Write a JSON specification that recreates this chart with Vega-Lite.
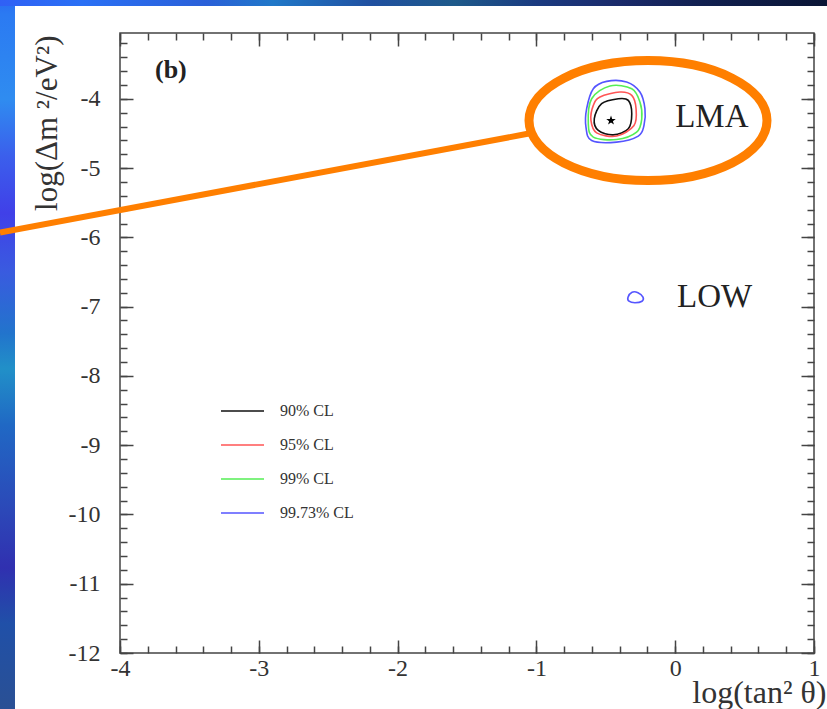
{
  "$schema": "https://vega.github.io/schema/vega-lite/v6.json",
  "width": 694,
  "height": 620,
  "autosize": "none",
  "padding": {"left": 120, "top": 33, "right": 13, "bottom": 56},
  "background": "white",
  "config": {"view": {"stroke": "#444", "strokeWidth": 1.5}},
  "datasets": {
    "contours": [
      {"g": "c90", "cl": "90% CL", "i": 0, "x": -0.530, "y": -4.071},
      {"g": "c90", "cl": "90% CL", "i": 1, "x": -0.410, "y": -3.999},
      {"g": "c90", "cl": "90% CL", "i": 2, "x": -0.338, "y": -4.023},
      {"g": "c90", "cl": "90% CL", "i": 3, "x": -0.313, "y": -4.216},
      {"g": "c90", "cl": "90% CL", "i": 4, "x": -0.338, "y": -4.433},
      {"g": "c90", "cl": "90% CL", "i": 5, "x": -0.446, "y": -4.520},
      {"g": "c90", "cl": "90% CL", "i": 6, "x": -0.554, "y": -4.457},
      {"g": "c90", "cl": "90% CL", "i": 7, "x": -0.583, "y": -4.288},
      {"g": "c95", "cl": "95% CL", "i": 0, "x": -0.542, "y": -3.974},
      {"g": "c95", "cl": "95% CL", "i": 1, "x": -0.398, "y": -3.902},
      {"g": "c95", "cl": "95% CL", "i": 2, "x": -0.313, "y": -3.951},
      {"g": "c95", "cl": "95% CL", "i": 3, "x": -0.282, "y": -4.143},
      {"g": "c95", "cl": "95% CL", "i": 4, "x": -0.297, "y": -4.385},
      {"g": "c95", "cl": "95% CL", "i": 5, "x": -0.422, "y": -4.538},
      {"g": "c95", "cl": "95% CL", "i": 6, "x": -0.566, "y": -4.491},
      {"g": "c95", "cl": "95% CL", "i": 7, "x": -0.607, "y": -4.312},
      {"g": "c95", "cl": "95% CL", "i": 8, "x": -0.590, "y": -4.095},
      {"g": "c99", "cl": "99% CL", "i": 0, "x": -0.470, "y": -3.815},
      {"g": "c99", "cl": "99% CL", "i": 1, "x": -0.313, "y": -3.854},
      {"g": "c99", "cl": "99% CL", "i": 2, "x": -0.254, "y": -4.047},
      {"g": "c99", "cl": "99% CL", "i": 3, "x": -0.241, "y": -4.288},
      {"g": "c99", "cl": "99% CL", "i": 4, "x": -0.278, "y": -4.481},
      {"g": "c99", "cl": "99% CL", "i": 5, "x": -0.422, "y": -4.587},
      {"g": "c99", "cl": "99% CL", "i": 6, "x": -0.590, "y": -4.553},
      {"g": "c99", "cl": "99% CL", "i": 7, "x": -0.626, "y": -4.360},
      {"g": "c99", "cl": "99% CL", "i": 8, "x": -0.602, "y": -3.999},
      {"g": "c9973", "cl": "99.73% CL", "i": 0, "x": -0.494, "y": -3.748},
      {"g": "c9973", "cl": "99.73% CL", "i": 1, "x": -0.350, "y": -3.757},
      {"g": "c9973", "cl": "99.73% CL", "i": 2, "x": -0.254, "y": -3.902},
      {"g": "c9973", "cl": "99.73% CL", "i": 3, "x": -0.218, "y": -4.143},
      {"g": "c9973", "cl": "99.73% CL", "i": 4, "x": -0.225, "y": -4.385},
      {"g": "c9973", "cl": "99.73% CL", "i": 5, "x": -0.266, "y": -4.538},
      {"g": "c9973", "cl": "99.73% CL", "i": 6, "x": -0.422, "y": -4.625},
      {"g": "c9973", "cl": "99.73% CL", "i": 7, "x": -0.602, "y": -4.602},
      {"g": "c9973", "cl": "99.73% CL", "i": 8, "x": -0.643, "y": -4.408},
      {"g": "c9973", "cl": "99.73% CL", "i": 9, "x": -0.638, "y": -4.143},
      {"g": "c9973", "cl": "99.73% CL", "i": 10, "x": -0.590, "y": -3.854},
      {"g": "low", "cl": "99.73% CL", "i": 0, "x": -0.340, "y": -6.864},
      {"g": "low", "cl": "99.73% CL", "i": 1, "x": -0.311, "y": -6.792},
      {"g": "low", "cl": "99.73% CL", "i": 2, "x": -0.268, "y": -6.799},
      {"g": "low", "cl": "99.73% CL", "i": 3, "x": -0.232, "y": -6.864},
      {"g": "low", "cl": "99.73% CL", "i": 4, "x": -0.239, "y": -6.922},
      {"g": "low", "cl": "99.73% CL", "i": 5, "x": -0.290, "y": -6.944},
      {"g": "low", "cl": "99.73% CL", "i": 6, "x": -0.333, "y": -6.922}
    ],
    "bestfit": [{"x": -0.4625, "y": -4.314}],
    "callout": [{"x": -0.196, "y": -4.314}],
    "pointer": [{"i": 0, "x": -4.8646, "y": -5.932}, {"i": 1, "x": -1.0533, "y": -4.501}],
    "regions": [{"label": "LMA", "x": 0.0, "y": -4.256}, {"label": "LOW", "x": 0.013, "y": -6.857}],
    "panel": [{"label": "(b)", "x": -3.748, "y": -3.577}]
  },
  "resolve": {"axis": {"x": "independent", "y": "independent"}},
  "layer": [
    {
      "data": {"values": [{}]},
      "mark": {"type": "rect", "fill": {"gradient": "linear", "x1": 0, "y1": 0, "x2": 0, "y2": 1, "stops": [
        {"offset": 0, "color": "#2a6cf2"},
        {"offset": 0.02, "color": "#2b7af2"},
        {"offset": 0.14, "color": "#2f8cf0"},
        {"offset": 0.22, "color": "#3b5fec"},
        {"offset": 0.30, "color": "#4040e8"},
        {"offset": 0.38, "color": "#3a5ae0"},
        {"offset": 0.47, "color": "#2274cc"},
        {"offset": 0.52, "color": "#2190c8"},
        {"offset": 0.60, "color": "#2068c4"},
        {"offset": 0.72, "color": "#2c48b8"},
        {"offset": 0.80, "color": "#3030b0"},
        {"offset": 0.88, "color": "#2050a8"},
        {"offset": 1, "color": "#2a5094"}]}},
      "encoding": {
        "x": {"datum": -4.8646, "type": "quantitative", "scale": {"domain": [-4, 1], "nice": false, "zero": false}, "axis": null},
        "x2": {"datum": -4.7565},
        "y": {"datum": -2.573, "type": "quantitative", "scale": {"domain": [-12, -3.05], "nice": false, "zero": false}, "axis": null},
        "y2": {"datum": -12.81}
      }
    },
    {
      "data": {"values": [{}]},
      "mark": {"type": "rect", "fill": {"gradient": "linear", "x1": 0, "y1": 0, "x2": 1, "y2": 0, "stops": [
        {"offset": 0, "color": "#3060f5"},
        {"offset": 0.1, "color": "#2a70f5"},
        {"offset": 0.25, "color": "#2a60d8"},
        {"offset": 0.33, "color": "#2078c8"},
        {"offset": 0.45, "color": "#2050a0"},
        {"offset": 0.55, "color": "#1e5a8a"},
        {"offset": 0.65, "color": "#1a3a80"},
        {"offset": 0.75, "color": "#1a2a6a"},
        {"offset": 0.85, "color": "#112050"},
        {"offset": 1, "color": "#0a1535"}]}},
      "encoding": {
        "x": {"datum": -4.8646, "type": "quantitative", "scale": {"domain": [-4, 1], "nice": false, "zero": false}, "axis": null},
        "x2": {"datum": 1.0937},
        "y": {"datum": -2.573, "type": "quantitative", "scale": {"domain": [-12, -3.05], "nice": false, "zero": false}, "axis": null},
        "y2": {"datum": -2.660}
      }
    },
    {
      "data": {"name": "contours"},
      "mark": {"type": "line", "interpolate": "cardinal-closed", "strokeWidth": 1.6},
      "encoding": {
        "x": {"field": "x", "type": "quantitative", "scale": {"domain": [-4, 1], "nice": false, "zero": false},
          "axis": {"orient": "bottom", "values": [-4, -3, -2, -1, 0, 1], "ticks": false, "domain": false, "grid": false,
            "labelFont": "Liberation Serif", "labelFontSize": 24, "labelColor": "#333", "labelPadding": 3, "labelFlush": false, "labelOverlap": false,
            "labelExpr": "'' + datum.value",
            "title": "log(tan² θ)", "titleFont": "Liberation Serif", "titleFontSize": 32, "titleFontWeight": "normal", "titleColor": "#333",
            "titleX": 706, "titleY": 49, "titleAlign": "right", "titleBaseline": "alphabetic"}},
        "y": {"field": "y", "type": "quantitative", "scale": {"domain": [-12, -3.05], "nice": false, "zero": false},
          "axis": {"orient": "left", "values": [-12, -11, -10, -9, -8, -7, -6, -5, -4], "ticks": false, "domain": false, "grid": false,
            "labelFont": "Liberation Serif", "labelFontSize": 24, "labelColor": "#333", "labelPadding": 20, "labelOverlap": false,
            "labelExpr": "'' + datum.value",
            "title": "log(Δm ²/eV²)", "titleFont": "Liberation Serif", "titleFontSize": 31, "titleFontWeight": "normal", "titleColor": "#333",
            "titleAngle": -90, "titleX": -64, "titleY": 2, "titleAlign": "right", "titleBaseline": "alphabetic"}},
        "color": {"field": "cl", "type": "nominal",
          "scale": {"domain": ["90% CL", "95% CL", "99% CL", "99.73% CL"], "range": ["#111111", "#ff5555", "#55ee55", "#5555ff"]},
          "legend": {"orient": "none", "legendX": 100, "legendY": 368, "direction": "vertical", "title": null,
            "symbolType": "stroke", "symbolSize": 1849, "symbolStrokeWidth": 1.6, "clipHeight": 20, "rowPadding": 14,
            "labelFont": "Liberation Serif", "labelFontSize": 16, "labelColor": "#333", "labelOffset": 15, "padding": 0}},
        "detail": {"field": "g"},
        "order": {"field": "i", "type": "quantitative"}
      }
    },
    {
      "data": {"name": "bestfit"},
      "mark": {"type": "point", "shape": "M0,-1L0.235,-0.324L0.951,-0.309L0.38,0.124L0.588,0.809L0,0.4L-0.588,0.809L-0.38,0.124L-0.951,-0.309L-0.235,-0.324Z", "size": 100, "filled": true, "color": "#000", "opacity": 1},
      "encoding": {
        "x": {"field": "x", "type": "quantitative", "scale": {"domain": [-4, 1], "nice": false, "zero": false},
          "axis": {"orient": "bottom", "values": [-4, -3, -2, -1, 0, 1], "labels": false, "domain": false, "grid": false, "tickSize": 13, "offset": -13, "tickColor": "#444", "tickWidth": 1.5, "title": null}},
        "y": {"field": "y", "type": "quantitative", "scale": {"domain": [-12, -3.05], "nice": false, "zero": false},
          "axis": {"orient": "left", "values": [-12, -11, -10, -9, -8, -7, -6, -5, -4], "labels": false, "domain": false, "grid": false, "tickSize": 13, "offset": -13, "tickColor": "#444", "tickWidth": 1.5, "title": null}}
      }
    },
    {
      "data": {"name": "pointer"},
      "mark": {"type": "line", "color": "#ff7f00", "strokeWidth": 6, "strokeCap": "butt"},
      "encoding": {
        "x": {"field": "x", "type": "quantitative", "scale": {"domain": [-4, 1], "nice": false, "zero": false},
          "axis": {"orient": "bottom", "values": [-4, -3.8, -3.6, -3.4, -3.2, -3, -2.8, -2.6, -2.4, -2.2, -2, -1.8, -1.6, -1.4, -1.2, -1, -0.8, -0.6, -0.4, -0.2, 0, 0.2, 0.4, 0.6, 0.8, 1], "labels": false, "domain": false, "grid": false, "tickSize": 7, "offset": -7, "tickColor": "#444", "tickWidth": 1.5, "title": null}},
        "y": {"field": "y", "type": "quantitative", "scale": {"domain": [-12, -3.05], "nice": false, "zero": false},
          "axis": {"orient": "left", "values": [-12, -11.8, -11.6, -11.4, -11.2, -11, -10.8, -10.6, -10.4, -10.2, -10, -9.8, -9.6, -9.4, -9.2, -9, -8.8, -8.6, -8.4, -8.2, -8, -7.8, -7.6, -7.4, -7.2, -7, -6.8, -6.6, -6.4, -6.2, -6, -5.8, -5.6, -5.4, -5.2, -5, -4.8, -4.6, -4.4, -4.2, -4, -3.8, -3.6, -3.4, -3.2], "labels": false, "domain": false, "grid": false, "tickSize": 7, "offset": -7, "tickColor": "#444", "tickWidth": 1.5, "title": null}},
        "order": {"field": "i", "type": "quantitative"}
      }
    },
    {
      "data": {"name": "callout"},
      "mark": {"type": "point", "shape": "M-1,0A1,0.504 0 1,1 1,0A1,0.504 0 1,1 -1,0Z", "size": 56644, "filled": false, "stroke": "#ff7f00", "strokeWidth": 9, "opacity": 1},
      "encoding": {
        "x": {"field": "x", "type": "quantitative", "scale": {"domain": [-4, 1], "nice": false, "zero": false},
          "axis": {"orient": "top", "values": [-4, -3, -2, -1, 0, 1], "labels": false, "domain": false, "grid": false, "tickSize": 13, "offset": -13, "tickColor": "#444", "tickWidth": 1.5, "title": null}},
        "y": {"field": "y", "type": "quantitative", "scale": {"domain": [-12, -3.05], "nice": false, "zero": false},
          "axis": {"orient": "right", "values": [-12, -11, -10, -9, -8, -7, -6, -5, -4], "labels": false, "domain": false, "grid": false, "tickSize": 13, "offset": -13, "tickColor": "#444", "tickWidth": 1.5, "title": null}}
      }
    },
    {
      "data": {"name": "regions"},
      "mark": {"type": "text", "font": "Liberation Serif", "fontSize": 33, "color": "#222", "align": "left", "baseline": "middle"},
      "encoding": {
        "x": {"field": "x", "type": "quantitative", "scale": {"domain": [-4, 1], "nice": false, "zero": false},
          "axis": {"orient": "top", "values": [-4, -3.8, -3.6, -3.4, -3.2, -3, -2.8, -2.6, -2.4, -2.2, -2, -1.8, -1.6, -1.4, -1.2, -1, -0.8, -0.6, -0.4, -0.2, 0, 0.2, 0.4, 0.6, 0.8, 1], "labels": false, "domain": false, "grid": false, "tickSize": 7, "offset": -7, "tickColor": "#444", "tickWidth": 1.5, "title": null}},
        "y": {"field": "y", "type": "quantitative", "scale": {"domain": [-12, -3.05], "nice": false, "zero": false},
          "axis": {"orient": "right", "values": [-12, -11.8, -11.6, -11.4, -11.2, -11, -10.8, -10.6, -10.4, -10.2, -10, -9.8, -9.6, -9.4, -9.2, -9, -8.8, -8.6, -8.4, -8.2, -8, -7.8, -7.6, -7.4, -7.2, -7, -6.8, -6.6, -6.4, -6.2, -6, -5.8, -5.6, -5.4, -5.2, -5, -4.8, -4.6, -4.4, -4.2, -4, -3.8, -3.6, -3.4, -3.2], "labels": false, "domain": false, "grid": false, "tickSize": 7, "offset": -7, "tickColor": "#444", "tickWidth": 1.5, "title": null}},
        "text": {"field": "label"}
      }
    },
    {
      "data": {"name": "panel"},
      "mark": {"type": "text", "font": "Liberation Serif", "fontSize": 26, "fontWeight": "bold", "color": "#222", "align": "left", "baseline": "middle"},
      "encoding": {
        "x": {"field": "x", "type": "quantitative", "scale": {"domain": [-4, 1], "nice": false, "zero": false}, "axis": null},
        "y": {"field": "y", "type": "quantitative", "scale": {"domain": [-12, -3.05], "nice": false, "zero": false}, "axis": null},
        "text": {"field": "label"}
      }
    }
  ]
}
